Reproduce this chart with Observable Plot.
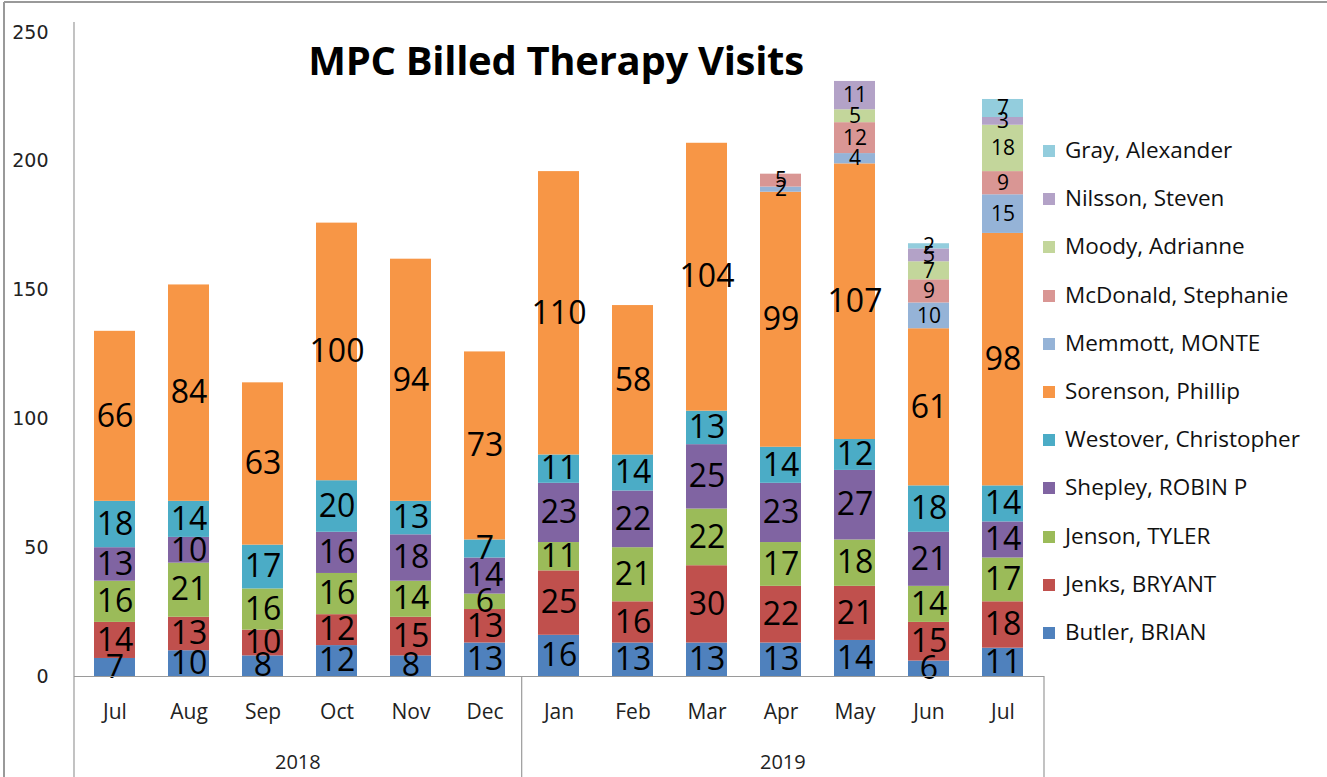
<!DOCTYPE html>
<html>
<head>
<meta charset="utf-8">
<script src="https://cdn.jsdelivr.net/npm/d3@7"></script>
<script src="https://cdn.jsdelivr.net/npm/@observablehq/plot@0.6"></script>
<style>
  body { margin: 0; background: #fff; }
  #wrap { position: relative; width: 1327px; height: 777px; overflow: hidden; background: #fff; font-family: "Open Sans", sans-serif; }
  #wrap svg { position: absolute; left: 0; top: 0; }
  #title { position: absolute; left: 0; width: 1112px; top: 34px; text-align: center; font-weight: bold; font-size: 40px; line-height: 52px; color: #000; letter-spacing: -0.3px; }
  #legend { position: absolute; left: 1043px; top: 0; }
  .item { position: absolute; left: 0; white-space: nowrap; font-size: 22.5px; color: #111; line-height: 26px; height: 26px; }
  .sw { display: inline-block; width: 12px; height: 12px; vertical-align: middle; margin-right: 10px; position: relative; top: -1px; }
  [aria-label="y-axis tick label"] text { font-family: "DejaVu Sans", sans-serif; font-size: 19px; fill: #222; }
  [aria-label="x-axis tick label"] text { fill: #222; }
</style>
</head>
<body>
<div id="wrap">
  <div id="title">MPC Billed Therapy Visits</div>
  <div id="legend"></div>
</div>
<script>
const months = ["Jul","Aug","Sep","Oct","Nov","Dec","Jan","Feb","Mar","Apr","May","Jun","Jul"];
const years  = ["2018","2018","2018","2018","2018","2018","2019","2019","2019","2019","2019","2019","2019"];
const seriesNames = ["Butler, BRIAN","Jenks, BRYANT","Jenson, TYLER","Shepley, ROBIN P","Westover, Christopher","Sorenson, Phillip","Memmott, MONTE","McDonald, Stephanie","Moody, Adrianne","Nilsson, Steven","Gray, Alexander"];
const butler   = [7,10,8,12,8,13,16,13,13,13,14,6,11];
const jenks    = [14,13,10,12,15,13,25,16,30,22,21,15,18];
const jenson   = [16,21,16,16,14,6,11,21,22,17,18,14,17];
const shepley  = [13,10,0,16,18,14,23,22,25,23,27,21,14];
const westover = [18,14,17,20,13,7,11,14,13,14,12,18,14];
const sorenson = [66,84,63,100,94,73,110,58,104,99,107,61,98];
const memmott  = [0,0,0,0,0,0,0,0,0,2,4,10,15];
const mcdonald = [0,0,0,0,0,0,0,0,0,5,12,9,9];
const moody    = [0,0,0,0,0,0,0,0,0,0,5,7,18];
const nilsson  = [0,0,0,0,0,0,0,0,0,0,11,5,3];
const gray     = [0,0,0,0,0,0,0,0,0,0,0,2,7];
const seriesColors = ["#4F81BD","#C0504D","#9BBB59","#8064A2","#4BACC6","#F79646","#95B3D7","#D99694","#C3D69B","#B3A2C7","#93CDDD"];
const yTicks = [0,50,100,150,200,250];

const seriesValues = [butler, jenks, jenson, shepley, westover, sorenson, memmott, mcdonald, moody, nilsson, gray];
const smallSeries = new Set(seriesNames.slice(6));
const keys = months.map((m, i) => years[i] + "-" + m + "-" + i);
const rows = [];
seriesNames.forEach((s, si) => {
  seriesValues[si].forEach((v, i) => rows.push({key: keys[i], series: s, value: v}));
});

const W = 1327, H = 777;
const plot = Plot.plot({
  width: W, height: H,
  marginLeft: 74, marginRight: 283, marginTop: 32, marginBottom: 101,
  style: {fontFamily: "Open Sans, sans-serif", fontSize: "21px", background: "transparent", overflow: "visible"},
  x: {domain: keys, paddingInner: 0.44, paddingOuter: 0.22, align: 0.5},
  y: {domain: [0, 250]},
  color: {domain: seriesNames, range: seriesColors},
  marks: [
    Plot.barY(rows, {x: "key", y: "value", fill: "series", z: "series", order: seriesNames}),
    Plot.text(rows, Plot.stackY({
      x: "key", y: "value", z: "series", order: seriesNames,
      text: d => d.value > 0 ? String(d.value) : "",
      fontSize: d => smallSeries.has(d.series) ? 21 : 32,
      fill: "#000", fontFamily: "Open Sans, sans-serif"
    })),
    Plot.ruleY([0], {stroke: "#9a9a9a", strokeWidth: 1.2}),
    Plot.axisY({ticks: yTicks, tickSize: 0, tickPadding: 26, label: null}),
    Plot.axisX({tickSize: 0, tickPadding: 28, tickFormat: k => k.split("-")[1], label: null, fontSize: 21})
  ]
});

const wrap = document.getElementById("wrap");
wrap.insertBefore(plot, wrap.firstChild);

// Category group axis (years) drawn from Plot's x scale
const sx = plot.scale("x");
const sy = plot.scale("y");
const [r0, r1] = sx.range;
const n = sx.domain.length;
const cell = (r1 - r0) / n;
const yBase = sy.range[0];
const svg = d3.select(plot);
const deco = svg.append("g").attr("stroke", "#9a9a9a").attr("stroke-width", 1.2);
deco.append("line").attr("x1", r0).attr("x2", r0).attr("y1", sy.range[1] - 10).attr("y2", H);
let start = 0;
for (let i = 1; i <= years.length; i++) {
  if (i === years.length || years[i] !== years[start]) {
    const xEnd = r0 + i * cell;
    deco.append("line").attr("x1", xEnd).attr("x2", xEnd).attr("y1", yBase).attr("y2", H);
    svg.append("text")
      .attr("x", r0 + (start + i) / 2 * cell)
      .attr("y", 762)
      .attr("dy", "0.35em")
      .attr("text-anchor", "middle")
      .attr("font-family", "Open Sans, sans-serif")
      .attr("font-size", 20)
      .attr("fill", "#222")
      .text(years[start]);
    start = i;
  }
}
svg.append("line").attr("x1", 4).attr("x2", 4).attr("y1", 2).attr("y2", H).attr("stroke", "#999").attr("stroke-width", 2);
svg.append("line").attr("x1", 4).attr("x2", W).attr("y1", 2).attr("y2", 2).attr("stroke", "#999").attr("stroke-width", 2);

// Legend
const legend = document.getElementById("legend");
const legendOrder = seriesNames.slice().reverse();
legendOrder.forEach((s, i) => {
  const item = document.createElement("div");
  item.className = "item";
  item.style.top = (150 + i * 48.2 - 13) + "px";
  const sw = document.createElement("span");
  sw.className = "sw";
  sw.style.background = seriesColors[seriesNames.indexOf(s)];
  item.appendChild(sw);
  item.appendChild(document.createTextNode(s));
  legend.appendChild(item);
});
</script>
</body>
</html>
